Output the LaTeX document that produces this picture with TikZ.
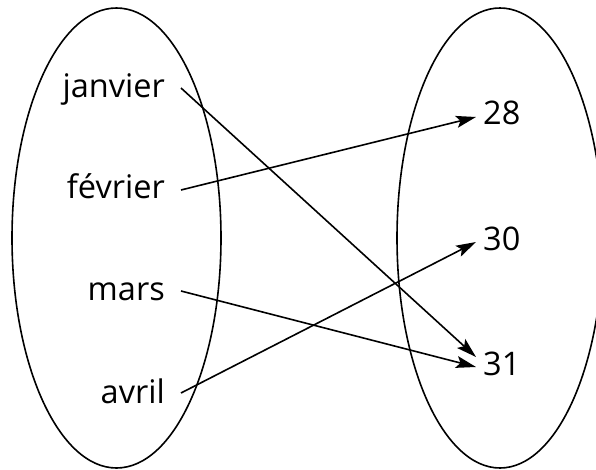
\documentclass[tikz,border=0pt]{standalone}
\usepackage{fontspec}
\setmainfont{Open Sans}
\usetikzlibrary{arrows.meta}
\tikzset{
  set/.style={draw, line width=1.6pt},
  src/.style={anchor=base east, inner xsep=16pt, inner ysep=0pt, font=\fontsize{32.5}{38}\selectfont},
  dst/.style={anchor=base west, inner xsep=7pt, inner ysep=0pt, font=\fontsize{32.5}{38}\selectfont},
  maparrow/.style={line width=1.6pt, -{Stealth[length=20pt,width=12pt,inset=4pt]}}
}
\begin{document}
\begin{tikzpicture}[x=1pt,y=-1pt]
\useasboundingbox (0,0) rectangle (596,470);
\path[set] (116.5,238) ellipse [x radius=104.5, y radius=230];
\path[set] (500,238) ellipse [x radius=103, y radius=230];
\node[src] (jan) at (181,98) {janvier};
\node[src] (fev) at (181,199) {février};
\node[src] (mar) at (181,300) {mars};
\node[src] (avr) at (181,403) {avril};
\node[dst] (n28) at (476,125) {28};
\node[dst] (n30) at (476,250) {30};
\node[dst] (n31) at (476,375) {31};
\draw[maparrow] ([yshift=10pt]jan.base east) -- ([yshift=18pt]n31.base west);
\draw[maparrow] ([yshift=9pt]fev.base east) -- ([yshift=8pt]n28.base west);
\draw[maparrow] ([yshift=9pt]mar.base east) -- ([yshift=8pt]n31.base west);
\draw[maparrow] ([yshift=10pt]avr.base east) -- ([yshift=8pt]n30.base west);
\end{tikzpicture}
\end{document}
